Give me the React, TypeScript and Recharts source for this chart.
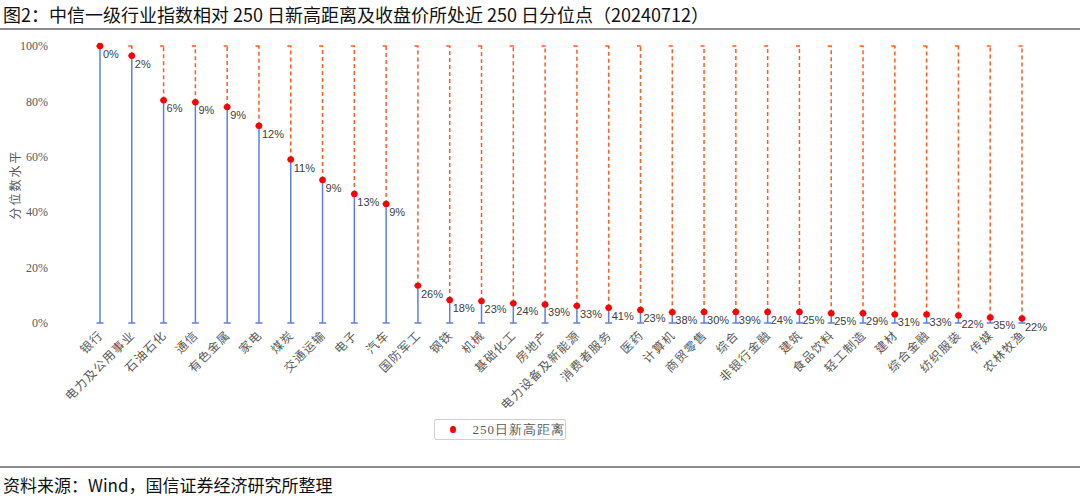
import React from "react";
import { ComposedChart, Line, XAxis, YAxis, ErrorBar } from "recharts";

// ── Data ──────────────────────────────────────────────────────────────────────

const industries = [
  "银行", "电力及公用事业", "石油石化", "通信", "有色金属", "家电", "煤炭", "交通运输",
  "电子", "汽车", "国防军工", "钢铁", "机械", "基础化工", "房地产", "电力设备及新能源",
  "消费者服务", "医药", "计算机", "商贸零售", "综合", "非银行金融", "建筑", "食品饮料",
  "轻工制造", "建材", "综合金融", "纺织服装", "传媒", "农林牧渔",
];

// 收盘价所处近 250 日分位点（%）
const percentile = [
  100, 96.5, 80.4, 79.7, 78.0, 71.2, 59.0, 51.6, 46.6, 43.0,
  13.5, 8.3, 7.9, 7.1, 6.7, 6.2, 5.5, 4.7, 3.9, 4.0,
  4.0, 4.0, 4.0, 3.5, 3.5, 3.1, 3.1, 2.7, 2.0, 1.6,
];

// 相对 250 日新高距离（%）
const distance = [
  0, 2, 6, 9, 9, 12, 11, 9, 13, 9,
  26, 18, 23, 24, 39, 33, 41, 23, 38, 30,
  39, 24, 25, 25, 29, 31, 33, 22, 35, 22,
];

const yTicks = [0, 20, 40, 60, 80, 100];

const rows = industries.map((name, i) => ({
  name,
  pct: percentile[i],
  dist: distance[i],
  down: [percentile[i], 0],
  up: [0, 100 - percentile[i]],
}));

// ── Style ─────────────────────────────────────────────────────────────────────

const SANS = "'Noto Sans CJK SC', 'Noto Sans', sans-serif";
const SERIF = "'Liberation Serif', 'DejaVu Serif', serif";
const LABEL_FONT = "'Liberation Sans', Arial, sans-serif";
const GREY = "#595959";
const BLUE = "#5B7FE6";
const ORANGE = "#FF5A1F";
const RED = "#FF0000";

const XTick = ({ x, y, payload }: any) => (
  <g transform={`translate(${x + 1},${y + 2})`}>
    <text
      x={0}
      y={0}
      dy={4}
      textAnchor="end"
      transform="rotate(-45)"
      fontFamily={SANS}
      fontSize={12}
      letterSpacing={1.2}
      fill={GREY}
    >
      {payload.value}
    </text>
  </g>
);

const Dot = (props: any) => {
  const { cx, cy, payload, index } = props;
  if (cx == null || cy == null) return null;
  return (
    <g key={`dot-${index}`}>
      <circle cx={cx} cy={cy} r={3.2} fill={RED} />
      <text x={cx + 3} y={cy + 12} fontFamily={LABEL_FONT} fontSize={11} fill="#404040">
        {`${payload.dist}%`}
      </text>
    </g>
  );
};

// ── Component ─────────────────────────────────────────────────────────────────

export default function App() {
  return (
    <div
      style={{
        position: "absolute",
        left: 0,
        top: 0,
        width: 1080,
        height: 496,
        background: "#fff",
        overflow: "hidden",
      }}
    >
      {/* Title */}
      <div
        style={{
          position: "absolute",
          left: 3,
          top: 2,
          fontFamily: SANS,
          fontSize: 18,
          color: "#111",
          whiteSpace: "nowrap",
          lineHeight: "24px",
        }}
      >
        图2：中信一级行业指数相对 250 日新高距离及收盘价所处近 250 日分位点（20240712）
      </div>
      <div style={{ position: "absolute", left: 0, top: 28, width: 1080, height: 2, background: "#8c8c8c" }} />

      <div style={{ position: "absolute", left: 0, top: 0 }}>
        <ComposedChart
          width={1080}
          height={496}
          data={rows}
          margin={{ top: 46, right: 42, bottom: 73, left: 0 }}
        >
          <XAxis
            dataKey="name"
            interval={0}
            axisLine={false}
            tickLine={false}
            height={100}
            padding={{ left: 16, right: 16 }}
            tick={<XTick />}
          />
          <YAxis
            type="number"
            domain={[0, 100]}
            ticks={yTicks}
            tickFormatter={(v: number) => `${v}%`}
            axisLine={false}
            tickLine={false}
            tickSize={6}
            tickMargin={30}
            width={84}
            tick={{ fontFamily: SERIF, fontSize: 12, fill: GREY }}
            label={{
              content: ({ viewBox }: any) => {
                const cy = viewBox.y + viewBox.height / 2;
                return (
                  <text
                    x={14}
                    y={cy}
                    transform={`rotate(-90 14 ${cy})`}
                    textAnchor="middle"
                    dominantBaseline="central"
                    fontFamily={SANS}
                    fontSize={12}
                    letterSpacing={2}
                    fill={GREY}
                  >
                    分位数水平
                  </text>
                );
              },
            }}
          />
          <Line
            dataKey="pct"
            name="250日新高距离"
            stroke="none"
            legendType="circle"
            dot={<Dot />}
            activeDot={false}
            isAnimationActive={false}
          >
            <ErrorBar dataKey="down" direction="y" width={3.5} stroke={BLUE} strokeWidth={1.5} />
            <ErrorBar
              dataKey="up"
              direction="y"
              width={3.5}
              stroke={ORANGE}
              strokeWidth={1.5}
              strokeDasharray="4 3"
            />
          </Line>
        </ComposedChart>
      </div>

      {/* Legend */}
      <div
        style={{
          position: "absolute",
          left: 434,
          top: 419,
          width: 132,
          height: 21,
          border: "1px solid #d0d0d0",
          borderRadius: 2,
          boxSizing: "border-box",
          display: "flex",
          alignItems: "center",
        }}
      >
        <div style={{ marginLeft: 15, width: 7, height: 7, borderRadius: "50%", background: RED }} />
        <span
          style={{
            marginLeft: 17,
            fontFamily: SERIF,
            fontSize: 13,
            letterSpacing: 1,
            color: GREY,
            whiteSpace: "nowrap",
          }}
        >
          250日新高距离
        </span>
      </div>

      {/* Source */}
      <div style={{ position: "absolute", left: 0, top: 466, width: 1080, height: 2, background: "#8c8c8c" }} />
      <div
        style={{
          position: "absolute",
          left: 3,
          top: 474,
          fontFamily: SANS,
          fontSize: 17,
          color: "#111",
          whiteSpace: "nowrap",
          lineHeight: "22px",
        }}
      >
        资料来源：Wind，国信证券经济研究所整理
      </div>
    </div>
  );
}
